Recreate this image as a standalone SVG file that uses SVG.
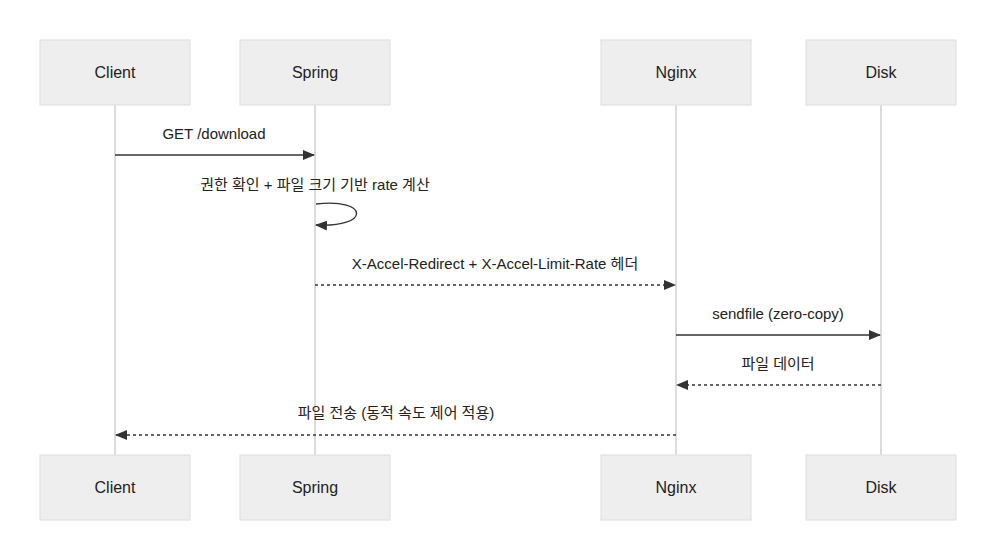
<svg xmlns="http://www.w3.org/2000/svg" width="996" height="560" viewBox="0 0 996 560">
<style>
.box{fill:#eeeeee;stroke:#dedede;stroke-width:1}
.life{stroke:#d0d0d0;stroke-width:1.5}
.t{font-family:"Liberation Sans","Noto Sans CJK KR",sans-serif;font-size:16px;fill:#222;text-anchor:middle}
.m{font-family:"Liberation Sans","Noto Sans CJK KR",sans-serif;font-size:15px;fill:#222;text-anchor:middle}
.s{stroke:#333;stroke-width:1.3;fill:none}
.d{stroke:#333;stroke-width:1.3;fill:none;stroke-dasharray:3,3}
</style>
<defs><marker id="a" markerWidth="12" markerHeight="10" refX="11" refY="5" orient="auto" markerUnits="userSpaceOnUse"><path d="M0,0L12,5L0,10z" fill="#333"/></marker></defs>
<g id="lifelines">
<line class="life" x1="115" y1="105" x2="115" y2="455"/>
<line class="life" x1="315" y1="105" x2="315" y2="455"/>
<line class="life" x1="676" y1="105" x2="676" y2="455"/>
<line class="life" x1="881" y1="105" x2="881" y2="455"/>
</g>
<g id="client"><rect class="box" x="40" y="40" width="150" height="65"/><text class="t" x="115" y="78">Client</text><rect class="box" x="40" y="455" width="150" height="65"/><text class="t" x="115" y="493">Client</text></g>
<g id="spring"><rect class="box" x="240" y="40" width="150" height="65"/><text class="t" x="315" y="78">Spring</text><rect class="box" x="240" y="455" width="150" height="65"/><text class="t" x="315" y="493">Spring</text></g>
<g id="nginx"><rect class="box" x="601" y="40" width="150" height="65"/><text class="t" x="676" y="78">Nginx</text><rect class="box" x="601" y="455" width="150" height="65"/><text class="t" x="676" y="493">Nginx</text></g>
<g id="disk"><rect class="box" x="806" y="40" width="150" height="65"/><text class="t" x="881" y="78">Disk</text><rect class="box" x="806" y="455" width="150" height="65"/><text class="t" x="881" y="493">Disk</text></g>
<g id="connectors">
<line class="s" x1="115" y1="155" x2="314" y2="155" marker-end="url(#a)"/>
<text class="m" x="214" y="139">GET /download</text>
<path class="s" d="M316,204 C370,198 370,228 316,225" marker-end="url(#a)"/>
<text class="m" x="315" y="190">권한 확인 + 파일 크기 기반 rate 계산</text>
<line class="d" x1="315" y1="285" x2="675" y2="285" marker-end="url(#a)"/>
<text class="m" x="495" y="269">X-Accel-Redirect + X-Accel-Limit-Rate 헤더</text>
<line class="s" x1="676" y1="335" x2="880" y2="335" marker-end="url(#a)"/>
<text class="m" x="778" y="319">sendfile (zero-copy)</text>
<line class="d" x1="881" y1="385" x2="677" y2="385" marker-end="url(#a)"/>
<text class="m" x="778" y="369">파일 데이터</text>
<line class="d" x1="676" y1="435" x2="116" y2="435" marker-end="url(#a)"/>
<text class="m" x="396" y="418">파일 전송 (동적 속도 제어 적용)</text>
</g>
</svg>
